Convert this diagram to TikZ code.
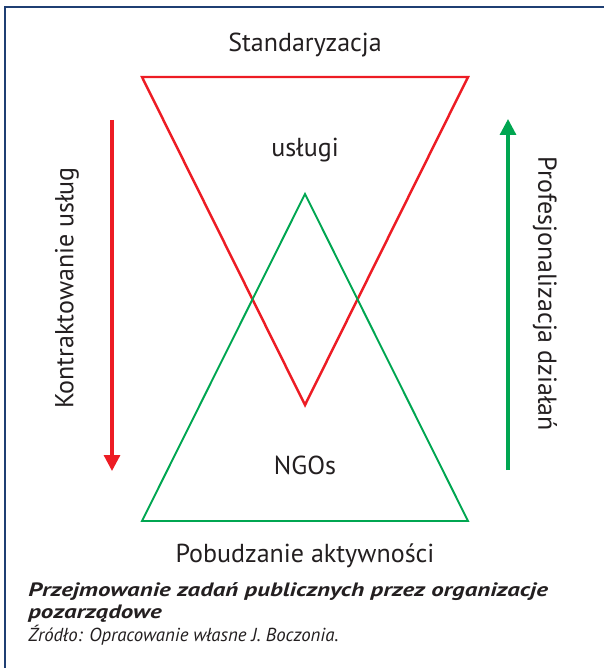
\documentclass[tikz,border=0pt]{standalone}
\usepackage{fontspec}
\setmainfont{PT Sans}
\usetikzlibrary{arrows.meta}

\definecolor{tred}{HTML}{ED1C24}
\definecolor{tgreen}{HTML}{00A651}
\definecolor{frameblue}{HTML}{1F3F73}
\definecolor{txt}{HTML}{231F20}

\tikzset{
    label/.style={text=txt, font=\fontsize{14.8}{17}\selectfont, inner sep=0pt},
    caption/.style={text=txt, font=\fontsize{10.7}{12}\selectfont\itshape, inner sep=0pt, anchor=base west},
    captionbf/.style={caption, font=\fontsize{11}{12}\selectfont\bfseries\itshape},
    flow/.style={line width=1.8pt, -{Triangle[length=9pt,width=9pt]}}
}

\begin{document}
\begin{tikzpicture}[x=0.02cm, y=-0.02cm]
        % Page size (pixels of the original)
        \useasboundingbox (0,0) rectangle (604,668);
        % Frame (left and top edge)
        \draw[frameblue, line width=1.2pt] (5,668) -- (5,7) -- (604,7);

        % Red triangle (inverted)
        \coordinate (r1) at (142,77);
        \coordinate (r2) at (468,77);
        \coordinate (r3) at (305,405);
        \draw[tred, line width=1.4pt, line join=miter] (r1) -- (r2) -- (r3) -- cycle;

        % Green triangle
        \coordinate (g1) at (142,521);
        \coordinate (g2) at (468,521);
        \coordinate (g3) at (305,194);
        \draw[tgreen, line width=1.1pt, line join=miter] (g1) -- (g2) -- (g3) -- cycle;

        % Side arrows
        \coordinate (downtop) at (112,120);
        \coordinate (downend) at (112,471);
        \coordinate (upbot) at (508,470);
        \coordinate (uptop) at (508,119);
        \draw[flow, tred] (downtop) -- (downend);
        \draw[flow, tgreen] (upbot) -- (uptop);

        % Labels
        \node[label] (stand) at (305,45) {Standaryzacja};
        \node[label] (uslugi) at (305,150) {usługi};
        \node[label] (ngos) at (305,465) {NGOs};
        \node[label] (pobudz) at (305,556) {Pobudzanie aktywności};
        \node[label, rotate=90] (kontr) at (67,288) {Kontraktowanie usług};
        \node[label, rotate=-90] (prof) at (545,294) {Profesjonalizacja działań};

        % Caption
        \node[captionbf] (cap1) at (28,596) {\scalebox{1.29}[1]{Przejmowanie zadań publicznych przez organizacje}};
        \node[captionbf] (cap2) at (28,618) {\scalebox{1.29}[1]{pozarządowe}};
        \node[caption] (cap3) at (28,641) {Źródło: Opracowanie własne J. Boczonia.};
    \end{tikzpicture}
\end{document}
